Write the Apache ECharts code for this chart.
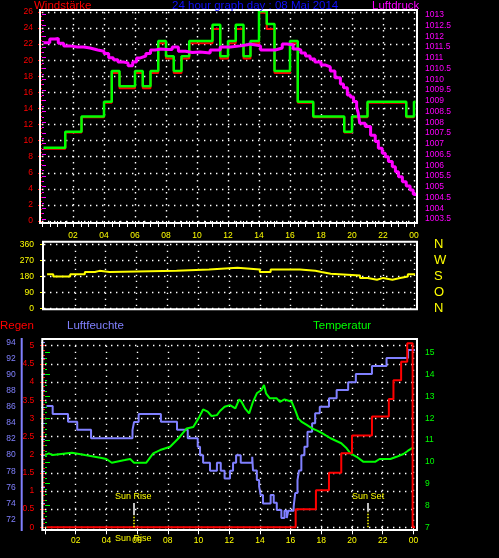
<!DOCTYPE html>
<html>
<head>
<meta charset="utf-8">
<script src="https://cdn.jsdelivr.net/npm/echarts@6.0.0/dist/echarts.min.js"></script>
<style>
  html, body { margin: 0; padding: 0; background: #000; }
  #main { width: 499px; height: 558px; }
</style>
</head>
<body>
<div id="main"></div>
<script>
// wind (Windstärke) - step values, change times in hours
const windTimes = [0.1, 1.5, 2.55, 4.0, 4.5, 5.0, 6.0, 6.5, 7.0, 7.5, 8.0, 8.5, 9.0, 9.5, 11.0, 11.5, 12.0, 12.5, 13.0, 13.45, 14.0, 14.5, 15.0, 16.0, 16.5, 17.5, 19.5, 20.0, 21.0, 23.5, 24.0, 24.1];
const windSpeed = [9.1, 11.1, 13.0, 14.85, 18.65, 16.75, 18.65, 16.75, 18.65, 22.4, 20.5, 18.65, 20.5, 22.4, 24.4, 20.5, 22.4, 24.4, 20.5, 22.4, 26.1, 24.5, 18.65, 22.4, 14.85, 13.0, 11.1, 13.0, 14.85, 13.0, 14.85, 14.85];
const gustSpeed = [9.0, 11.0, 12.9, 14.7, 18.4, 16.5, 18.4, 16.5, 18.4, 22.1, 20.2, 18.4, 20.2, 22.1, 23.9, 20.2, 22.1, 23.9, 20.2, 22.1, 25.9, 23.9, 18.4, 22.1, 14.7, 12.9, 11.0, 12.9, 14.7, 12.9, 14.7, 14.7];

// Luftdruck
const pressTimes = [0.1, 0.5, 0.85, 1.05, 1.4, 1.8, 2.3, 2.7, 3.1, 3.6, 4.0, 4.3, 4.6, 4.9, 5.25, 5.55, 5.85, 6.1, 6.35, 6.7, 7.0, 7.3, 7.6, 8.1, 8.4, 8.8, 9.25, 9.7, 10.2, 10.85, 11.5, 12.15, 12.8, 13.25, 13.4, 14.1, 14.7, 15.05, 15.5, 15.8, 16.2, 16.55, 16.7, 17.0, 17.3, 17.6, 18.0, 18.3, 18.6, 18.9, 19.25, 19.45, 19.7, 19.9, 20.1, 20.3, 20.4, 20.5, 20.85, 21.2, 21.5, 21.7, 21.95, 22.15, 22.35, 22.6, 22.8, 23.0, 23.25, 23.5, 23.75, 23.95, 24.1];
const pressure = [1011.7, 1011.87, 1011.9, 1011.67, 1011.55, 1011.5, 1011.5, 1011.45, 1011.36, 1011.3, 1011.2, 1011.0, 1010.9, 1010.8, 1010.76, 1010.63, 1010.8, 1010.99, 1011.08, 1011.2, 1011.36, 1011.4, 1011.38, 1011.38, 1011.5, 1011.3, 1011.24, 1011.27, 1011.22, 1011.36, 1011.5, 1011.55, 1011.6, 1011.64, 1011.55, 1011.36, 1011.36, 1011.45, 1011.64, 1011.6, 1011.4, 1011.36, 1011.22, 1011.08, 1010.94, 1010.8, 1010.66, 1010.57, 1010.38, 1010.07, 1009.78, 1009.6, 1009.27, 1009.17, 1008.96, 1008.7, 1008.43, 1007.95, 1007.8, 1007.4, 1007.1, 1006.79, 1006.56, 1006.4, 1006.17, 1005.93, 1005.7, 1005.47, 1005.23, 1005.03, 1004.85, 1004.65, 1004.57];

// wind direction (degrees)
const dirTimes = [0.2, 0.6, 1.7, 2.65, 3.3, 3.6, 4.25, 8.6, 10.7, 12.55, 14.0, 14.7, 16.6, 17.6, 18.0, 18.6, 20.5, 21.0, 21.6, 22.0, 22.6, 23.1, 23.6, 24.1];
const direction = [193, 180, 193, 205, 212, 205, 212, 220, 230, 220, 205, 220, 212, 205, 196, 185, 172, 162, 172, 162, 172, 180, 193, 193];

// Luftfeuchte (%)
const humTimes = [0.1, 0.5, 1.5, 2.1, 3.0, 5.7, 5.8, 6.1, 7.55, 8.6, 9.3, 9.95, 10.1, 10.3, 10.75, 11.2, 11.45, 11.7, 12.05, 12.25, 12.45, 12.75, 13.5, 13.55, 13.8, 13.95, 14.05, 14.2, 14.7, 14.9, 15.1, 15.4, 15.6, 15.75, 15.85, 16.2, 16.3, 16.45, 16.55, 16.7, 16.9, 17.1, 17.4, 17.6, 17.9, 18.5, 19.0, 19.75, 20.25, 21.3, 22.25, 23.65, 24.15];
const humidity = [86.1, 85.1, 84.15, 83.15, 82.1, 83.1, 84.1, 85.1, 84.15, 83.15, 82.1, 81.05, 80.0, 79.06, 78.07, 79.06, 78.07, 77.1, 78.07, 79.06, 80.0, 79.06, 79.8, 78.1, 76.9, 76.1, 75.05, 74.0, 75.05, 74.1, 73.2, 72.2, 73.1, 72.2, 73.1, 73.6, 75.3, 76.9, 78.1, 80.0, 81.05, 82.9, 83.95, 85.2, 86.0, 87.05, 88.08, 89.03, 90.07, 91.05, 92.05, 93.04, 93.04];

// Regen (mm, cumulative)
const rainTimes = [0.1, 16.33, 17.65, 18.5, 19.3, 20.0, 21.3, 22.4, 22.7, 23.2, 23.6, 23.95, 24.15];
const rain = [0, 0.5, 1.02, 1.5, 2.04, 2.53, 3.05, 3.53, 4.05, 4.56, 5.07, 0, 0];

// Temperatur (°C)
const tempTimes = [0.0, 0.25, 0.5, 1.75, 2.6, 3.6, 4.0, 4.35, 5.2, 5.55, 5.8, 6.6, 7.05, 7.5, 8.15, 8.7, 9.23, 9.66, 10.0, 10.3, 10.6, 10.85, 11.2, 11.4, 11.7, 12.05, 12.4, 12.65, 12.8, 13.03, 13.3, 13.55, 13.8, 14.1, 14.27, 14.4, 14.65, 15.1, 15.3, 15.6, 16.07, 16.3, 16.5, 16.7, 17.05, 17.4, 17.8, 18.05, 18.6, 19.3, 19.65, 19.9, 20.3, 20.75, 21.5, 21.8, 22.5, 22.9, 23.35, 23.65, 24.0];
const temperature = [10.31, 10.39, 10.31, 10.42, 10.31, 10.19, 10.13, 9.96, 10.08, 10.13, 9.96, 9.96, 10.39, 10.54, 10.69, 11.08, 11.53, 11.6, 11.99, 12.4, 12.3, 12.1, 12.14, 12.33, 12.52, 12.6, 12.45, 12.86, 12.75, 12.45, 12.22, 12.75, 13.14, 13.29, 13.52, 13.14, 12.91, 12.91, 12.75, 12.86, 12.75, 12.37, 11.99, 11.84, 11.69, 11.53, 11.41, 11.31, 11.08, 10.85, 10.62, 10.39, 10.23, 10.0, 10.0, 10.13, 10.13, 10.23, 10.36, 10.51, 10.66];

const sunRise = 5.75;
const sunSet = 21.05;
const compass = { 0: 'N', 90: 'O', 180: 'S', 270: 'W', 360: 'N' };
const titleText = '24 hour graph day : 08 Mai 2014';

const FONT = '"Liberation Sans", Arial, sans-serif';
const DOTS = { color: '#ffffff', width: 1.4, type: [1.4, 4.6] };
const zip = (xs, ys) => xs.map((x, i) => [x, ys[i]]);
const hourLabel = v => (v === 0 ? '' : String(v % 24).padStart(2, '0'));

function xAxis(grid, opts) {
  return Object.assign({
    type: 'value', gridIndex: grid, min: 0, max: 24, interval: 2,
    axisLine: { show: false },
    axisTick: { show: false },
    axisLabel: { show: false },
    splitLine: { show: false }
  }, opts);
}

function yAxis(grid, min, max, interval, color, opts) {
  return Object.assign({
    type: 'value', gridIndex: grid, min: min, max: max, interval: interval,
    axisLine: { show: false },
    axisTick: { show: true, length: 4, lineStyle: { color: color } },
    minorTick: { show: true, splitNumber: 4, length: 2, lineStyle: { color: color } },
    axisLabel: { color: color, fontSize: 8.5, fontFamily: FONT, margin: 8 },
    splitLine: { show: false }
  }, opts);
}

const chart = echarts.init(document.getElementById('main'), null, { renderer: 'canvas' });

// sun marker: yellow dotted lower part (from the axis), short white part on top, label above
const sunLine = (h, topVal, whiteVal, name, bottomLabel) => [
  [{ coord: [h, 0], lineStyle: { color: '#ffff00', width: 1.5, type: [1.5, 1.5] },
     label: { show: bottomLabel, position: 'start', distance: 7, formatter: name } },
   { coord: [h, whiteVal] }],
  [{ coord: [h, whiteVal], lineStyle: { color: '#ffffff', width: 1.5, type: 'solid' },
     label: { show: true, position: 'end', distance: 2, formatter: name } },
   { coord: [h, topVal] }]
];

const option = {
  backgroundColor: '#000',
  animation: false,
  grid: [
    { left: 42, top: 12, width: 372, height: 209 },       // wind
    { left: 42, top: 14.7, width: 372, height: 204.3 },   // pressure
    { left: 44, top: 244.7, width: 370, height: 63.6 },   // direction
    { left: 45, top: 345.7, width: 368.4, height: 181.6 },// rain
    { left: 45, top: 342.3, width: 368.4, height: 177.3 },// humidity
    { left: 45, top: 352.7, width: 368.4, height: 174.6 } // temperature
  ].map(g => Object.assign(g, { containLabel: false, outerBoundsMode: 'none' })),
  xAxis: [
    xAxis(0, {
      axisTick: { show: true, length: 6, lineStyle: { color: '#fff' } },
      minorTick: { show: true, splitNumber: 4, length: 6, lineStyle: { color: '#fff' } },
      axisLabel: { show: true, color: '#ffff00', fontSize: 8.5, fontFamily: FONT, margin: 10,
                   formatter: hourLabel, showMinLabel: true, showMaxLabel: true },
      splitLine: { show: true, showMinLine: false, lineStyle: DOTS }
    }),
    xAxis(1),
    xAxis(2, { splitLine: { show: true, showMinLine: false, lineStyle: DOTS } }),
    xAxis(3, {
      axisTick: { show: true, length: 7, lineStyle: { color: '#fff' } },
      axisLabel: { show: true, color: '#ffff00', fontSize: 8.5, fontFamily: FONT, margin: 9,
                   formatter: hourLabel, showMaxLabel: true },
      splitLine: { show: true, showMinLine: false, lineStyle: DOTS }
    }),
    xAxis(4),
    xAxis(5)
  ],
  yAxis: [
    yAxis(0, 0, 26, 2, '#ff0000', { position: 'left', offset: 2, axisLabel: { color: '#ff0000', fontSize: 8.5, fontFamily: FONT, margin: 7 },
      splitLine: { show: true, lineStyle: DOTS } }),
    yAxis(1, 1003.5, 1013, 0.5, '#ff00ff', { position: 'right', offset: 3,
      minorTick: { show: true, splitNumber: 2, length: 2, lineStyle: { color: '#ff00ff' } },
      axisLabel: { color: '#ff00ff', fontSize: 8.5, fontFamily: FONT, margin: 8, formatter: v => String(+v.toFixed(1)) } }),
    yAxis(2, 0, 360, 90, '#ffff00', { position: 'left', offset: 1,
      minorTick: { show: true, splitNumber: 4, length: 2, lineStyle: { color: '#ffff00' } },
      axisLabel: { color: '#ffff00', fontSize: 8.5, fontFamily: FONT, margin: 9 },
      splitLine: { show: true, showMinLine: true, lineStyle: DOTS } }),
    yAxis(2, 0, 360, 90, '#ffff00', { position: 'right', offset: 3,
      axisTick: { show: false }, minorTick: { show: false },
      axisLabel: { color: '#ffff00', fontSize: 13, fontFamily: FONT, margin: 17, align: 'left',
                   formatter: v => compass[v] || '' } }),
    yAxis(3, 0, 5, 0.5, '#ff0000', { position: 'left', offset: 2.7, axisTick: { show: true, length: 5, lineStyle: { color: '#ff0000' } },
      axisLabel: { color: '#ff0000', fontSize: 8.5, fontFamily: FONT, margin: 8 },
      splitLine: { show: true, lineStyle: DOTS } }),
    yAxis(4, 72, 94, 2, '#8080ff', { position: 'left', offset: 23.3, minorTick: { show: false },
      axisLabel: { color: '#8080ff', fontSize: 8.5, fontFamily: FONT, margin: 6 } }),
    yAxis(5, 7, 15, 1, '#00ff00', { position: 'right', offset: 3.6, axisTick: { show: true, length: 5, lineStyle: { color: '#00ff00' } },
      axisLabel: { color: '#00ff00', fontSize: 8.5, fontFamily: FONT, margin: 8 } })
  ],
  series: [
    { name: 'Böen', type: 'line', xAxisIndex: 0, yAxisIndex: 0, step: 'end', showSymbol: false, clip: false,
      lineStyle: { color: '#ff0000', width: 2 }, data: zip(windTimes, gustSpeed), z: 2 },
    { name: 'Windstärke', type: 'line', xAxisIndex: 0, yAxisIndex: 0, step: 'end', showSymbol: false, clip: false,
      lineStyle: { color: '#00ff00', width: 2.5 }, data: zip(windTimes, windSpeed), z: 3 },
    { name: 'Luftdruck', type: 'line', xAxisIndex: 1, yAxisIndex: 1, step: 'end', showSymbol: false,
      lineStyle: { color: '#ff00ff', width: 3 }, data: zip(pressTimes, pressure), z: 4 },
    { name: 'Richtung', type: 'line', xAxisIndex: 2, yAxisIndex: 2, step: 'end', showSymbol: false,
      lineStyle: { color: '#ffff00', width: 2 }, data: zip(dirTimes, direction), z: 3 },
    { name: 'Luftfeuchte', type: 'line', xAxisIndex: 4, yAxisIndex: 5, step: 'end', showSymbol: false, clip: false,
      lineStyle: { color: '#8080ff', width: 2 }, data: zip(humTimes, humidity), z: 2 },
    { name: 'Temperatur', type: 'line', xAxisIndex: 5, yAxisIndex: 6, showSymbol: false, clip: false,
      lineStyle: { color: '#00ff00', width: 2 }, data: zip(tempTimes, temperature), z: 3 },
    { name: 'Regen', type: 'line', xAxisIndex: 3, yAxisIndex: 4, step: 'end', showSymbol: false, clip: false,
      lineStyle: { color: '#ff0000', width: 2 }, data: zip(rainTimes, rain), z: 4,
      markLine: {
        silent: true, symbol: ['none', 'none'], animation: false,
        label: { color: '#ffff00', fontSize: 9, fontFamily: FONT },
        data: sunLine(sunRise, 0.67, 0.34, 'Sun Rise', true).concat(sunLine(sunSet, 0.67, 0.43, 'Sun Set', false))
      } }
  ],
  graphic: [
    // plot frames
    { type: 'rect', shape: { x: 40, y: 10, width: 377, height: 213 }, style: { fill: 'none', stroke: '#fff', lineWidth: 2 }, z: 100 },
    { type: 'rect', shape: { x: 43, y: 241.7, width: 374, height: 67.6 }, style: { fill: 'none', stroke: '#fff', lineWidth: 2 }, z: 100 },
    { type: 'rect', shape: { x: 42.3, y: 339, width: 374.7, height: 191 }, style: { fill: 'none', stroke: '#fff', lineWidth: 2 }, z: 100 },
    { type: 'line', shape: { x1: 21.7, y1: 338, x2: 21.7, y2: 531 }, style: { stroke: '#8080ff', lineWidth: 2 }, z: 100 },
    // titles
    { type: 'text', x: 34, y: 0, style: { text: 'Windstärke', fill: '#ff0000', font: '11.5px ' + FONT, verticalAlign: 'top' }, z: 100 },
    { type: 'text', x: 172, y: 0, style: { text: titleText, fill: '#1010ff', font: '11.5px ' + FONT, verticalAlign: 'top' }, z: 100 },
    { type: 'text', x: 372, y: 0, style: { text: 'Luftdruck', fill: '#ff00ff', font: '11.5px ' + FONT, verticalAlign: 'top' }, z: 100 },
    { type: 'text', x: 0, y: 320, style: { text: 'Regen', fill: '#ff0000', font: '11.5px ' + FONT, verticalAlign: 'top' }, z: 100 },
    { type: 'text', x: 67, y: 320, style: { text: 'Luftfeuchte', fill: '#8080ff', font: '11.5px ' + FONT, verticalAlign: 'top' }, z: 100 },
    { type: 'text', x: 313, y: 320, style: { text: 'Temperatur', fill: '#00ff00', font: '11.5px ' + FONT, verticalAlign: 'top' }, z: 100 }
  ]
};

chart.setOption(option);
</script>
</body>
</html>
